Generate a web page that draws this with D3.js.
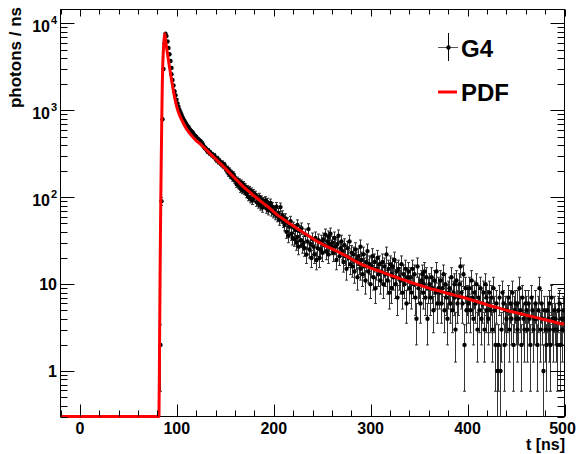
<!DOCTYPE html>
<html lang="en">
<head>
<meta charset="UTF-8">
<title>G4 vs PDF – photons / ns</title>
<script src="https://d3js.org/d3.v7.min.js"></script>
<style>
  html, body { margin: 0; padding: 0; background: #fff; }
  svg { display: block; }
  text { font-family: "Liberation Sans", Arial, Helvetica, sans-serif; font-weight: bold; fill: #000; }
</style>
</head>
<body>
<svg width="582" height="454"></svg>
<script>
  // G4 histogram: 1 ns bins, first bin centre at 82.5 ns (earlier bins are empty)
  const binStart = 82.5, binWidth = 1;
  const g4Counts = [
    2, 90, 790, 2990, 5870, 7600,
    7150, 6200, 5230, 4420, 3690, 3080, 2610, 2240, 1930, 1660, 1490, 1330,
    1200, 1100, 1010, 950, 890, 835, 790, 755, 722, 688,
    655, 642, 612, 588, 570, 556, 538, 512, 503, 488,
    470, 463, 448, 441, 424, 413, 402, 389, 374, 366,
    355, 338, 344, 322, 326, 310, 309, 296, 301, 280,
    270, 279, 256, 262, 249, 240, 247, 228, 236, 219,
    205, 214, 188, 203, 177, 190, 166, 183, 158, 171,
    160, 142, 158, 137, 151, 125, 146, 121, 140, 118,
    131, 109, 125, 101, 122, 96, 117, 92, 112, 99,
    107, 88, 99, 84, 101, 80, 94, 76, 90, 85,
    83, 92, 74, 88, 71, 80, 86, 69, 78, 66,
    71, 63, 78, 60, 66, 55, 77, 58, 62, 52,
    48, 57, 40, 51, 36, 46, 53, 38, 34, 45,
    33, 42, 30, 48, 35, 27, 41, 32, 44, 28,
    30, 26, 37, 22, 31, 43, 25, 29, 20, 33,
    27, 22, 34, 19, 26, 32, 20, 25, 31, 23,
    33, 28, 37, 24, 31, 35, 22, 29, 38, 27,
    30, 23, 34, 27, 19, 29, 36, 21, 26, 31,
    24, 18, 28, 21, 15, 26, 20, 31, 17, 23,
    16, 22, 14, 25, 19, 12, 21, 17, 27, 15,
    19, 13, 22, 16, 11, 18, 24, 14, 17, 10,
    16, 21, 12, 18, 9, 15, 20, 13, 17, 11,
    14, 18, 10, 16, 13, 22, 11, 15, 8, 17,
    13, 9, 16, 12, 19, 10, 14, 7, 15, 12,
    11, 17, 8, 13, 10, 15, 6, 12, 14, 9,
    12, 8, 15, 10, 13, 7, 4, 16, 9, 10,
    6, 11, 13, 8, 10, 14, 7, 12, 4, 9,
    10, 7, 12, 9, 5, 11, 8, 14, 6, 9,
    8, 11, 6, 9, 13, 5, 10, 7, 4, 8,
    9, 6, 12, 5, 8, 10, 7, 3, 11, 6,
    7, 10, 16, 8, 6, 13, 2, 9, 5, 7,
    6, 9, 5, 11, 7, 4, 8, 6, 10, 3,
    7, 5, 9, 4, 6, 8, 3, 10, 5, 7,
    6, 4, 8, 5, 7, 3, 9, 5, 2, 6,
    1, 2, 7, 1, 3, 8, 6, 2, 5, 4,
    5, 7, 3, 6, 4, 8, 2, 5, 6, 4,
    3, 6, 4, 9, 5, 2, 7, 4, 3, 6,
    5, 3, 6, 4, 2, 7, 5, 3, 4, 6,
    4, 2, 5, 9, 3, 6, 4, 1, 5, 3,
    2, 5, 4, 6, 3, 2, 7, 4, 3, 5,
    4, 3, 2, 5, 6, 2, 4, 3, 5, 4
  ];

  // PDF curve (t in ns, photons / ns)
  const pdfT = [-20, 80, 81.6, 82.2, 82.8, 83.4, 84, 84.5, 85, 85.5, 86, 86.5, 87, 87.6,
    88.5, 90, 92, 94, 96, 98, 100, 103, 106, 110, 115, 120, 125, 130, 135, 140, 145,
    150, 155, 160, 165, 170, 175, 180, 185, 190, 195, 200, 205, 210, 215, 220, 225,
    230, 235, 240, 245, 250, 255, 260, 265, 270, 275, 280, 285, 290, 295, 300, 310,
    320, 330, 340, 350, 360, 370, 380, 390, 400, 410, 420, 430, 440, 450, 460, 470,
    480, 490, 500];
  const pdfV = [0, 0, 0.3, 2, 15, 80, 300, 790, 1900, 3300, 4600, 5800, 6800, 7600,
    6300, 4800, 3400, 2450, 1800, 1370, 1090, 870, 740, 610, 515, 448, 402, 355, 312, 276, 244,
    215, 188, 165, 145, 128, 115, 103, 93, 84, 76, 68, 61, 56, 51, 47, 43,
    39.5, 36.5, 33.5, 31, 29, 27, 25.5, 24, 22.5, 21, 19.5, 18.2, 17, 16.1, 15.3, 14,
    12.7, 11.6, 10.6, 9.8, 9.0, 8.4, 7.8, 7.3, 6.8, 6.3, 5.8, 5.4, 5.0, 4.7, 4.4, 4.15,
    3.9, 3.65, 3.45];

  const xTicks = [0, 100, 200, 300, 400, 500];
  const yTicks = [1, 10, 100, 1000, 10000];
  const yTickBase = ["1", "10", "10", "10", "10"];
  const yTickExp = ["", "", "2", "3", "4"];
  const legendLabels = ["G4", "PDF"];

  const svg = d3.select("svg");
  const frameL = 60.5, frameR = 564.5, frameT = 9.5, frameB = 416.5;
  const yMin = 0.3, yMax = 14470;

  const x = d3.scaleLinear().domain([-20, 500]).range([frameL, frameR]);
  const y = d3.scaleLog().domain([yMin, yMax]).range([frameB, frameT]);

  // clip a little below the frame so the flat part of the PDF stays fully visible
  svg.append("clipPath").attr("id", "plot")
    .append("rect").attr("x", frameL).attr("y", frameT)
    .attr("width", frameR - frameL).attr("height", frameB - frameT + 1.5);

  const plot = svg.append("g").attr("clip-path", "url(#plot)");

  // G4 points with Poisson error bars
  const bins = g4Counts.map((c, i) => ({ t: binStart + i * binWidth, v: c, e: Math.sqrt(c) }));
  const bars = plot.append("g").attr("stroke", "#333").attr("stroke-width", 1);
  bins.forEach(d => {
    const px = Math.round(x(d.t)) + 0.5;
    const y1 = y(Math.max(d.v - d.e, yMin)), y2 = y(d.v + d.e);
    bars.append("line").attr("x1", px).attr("x2", px).attr("y1", Math.min(y1, frameB)).attr("y2", y2);
    bars.append("line").attr("x1", px - 1.5).attr("x2", px + 1.5).attr("y1", y2).attr("y2", y2);
    if (d.v - d.e > yMin)
      bars.append("line").attr("x1", px - 1.5).attr("x2", px + 1.5).attr("y1", y1).attr("y2", y1);
  });
  plot.append("g").selectAll("circle").data(bins).join("circle")
    .attr("cx", d => Math.round(x(d.t)) + 0.5)
    .attr("cy", d => y(d.v))
    .attr("r", 2.2)
    .attr("fill", "#000");

  // PDF on top
  const pdf = pdfT.map((t, i) => [t, Math.max(pdfV[i], yMin)]);
  plot.append("path")
    .datum(pdf)
    .attr("fill", "none")
    .attr("stroke", "#ff0000")
    .attr("stroke-width", 3)
    .attr("stroke-linejoin", "round")
    .attr("d", d3.line().x(d => x(d[0])).y(d => y(d[1])).curve(d3.curveMonotoneX));

  // frame
  svg.insert("rect", "g").attr("x", frameL).attr("y", frameT)
    .attr("width", frameR - frameL).attr("height", frameB - frameT)
    .attr("fill", "none").attr("stroke", "#000").attr("stroke-width", 1);

  // ticks (ROOT style, inside the frame on all four sides)
  const ticks = svg.append("g").attr("stroke", "#000").attr("stroke-width", 1);
  const xMinor = d3.range(-20, 501, 20).filter(v => v % 100 !== 0);
  xTicks.forEach(v => {
    const px = Math.round(x(v)) + 0.5;
    ticks.append("line").attr("x1", px).attr("x2", px).attr("y1", frameB).attr("y2", frameB - 12);
    ticks.append("line").attr("x1", px).attr("x2", px).attr("y1", frameT).attr("y2", frameT + 7);
  });
  xMinor.forEach(v => {
    const px = Math.round(x(v)) + 0.5;
    ticks.append("line").attr("x1", px).attr("x2", px).attr("y1", frameB).attr("y2", frameB - 6);
    ticks.append("line").attr("x1", px).attr("x2", px).attr("y1", frameT).attr("y2", frameT + 5);
  });
  const yMinor = y.ticks().filter(v => !yTicks.includes(v));
  yTicks.forEach(v => {
    const py = Math.round(y(v)) + 0.5;
    ticks.append("line").attr("x1", frameL).attr("x2", frameL + 14).attr("y1", py).attr("y2", py);
    ticks.append("line").attr("x1", frameR).attr("x2", frameR - 14).attr("y1", py).attr("y2", py);
  });
  yMinor.forEach(v => {
    const py = Math.round(y(v)) + 0.5;
    ticks.append("line").attr("x1", frameL).attr("x2", frameL + 7).attr("y1", py).attr("y2", py);
    ticks.append("line").attr("x1", frameR).attr("x2", frameR - 7).attr("y1", py).attr("y2", py);
  });

  // tick labels
  svg.append("g").selectAll("text").data(xTicks).join("text")
    .attr("x", d => x(d) - (d === 500 ? 2 : 0))
    .attr("y", 434)
    .attr("text-anchor", "middle")
    .style("font-size", "16px")
    .text(d => d);

  yTicks.forEach((v, i) => {
    const py = y(v);
    if (yTickExp[i]) {
      svg.append("text").attr("x", 50).attr("y", py + 9)
        .attr("text-anchor", "end").style("font-size", "16px").text(yTickBase[i]);
      svg.append("text").attr("x", 57).attr("y", py + 0.5)
        .attr("text-anchor", "end").style("font-size", "11px").text(yTickExp[i]);
    } else {
      svg.append("text").attr("x", 57).attr("y", py + 6)
        .attr("text-anchor", "end").style("font-size", "16px").text(yTickBase[i]);
    }
  });

  // axis titles
  svg.append("text")
    .attr("x", 565).attr("y", 450)
    .attr("text-anchor", "end")
    .style("font-size", "16px")
    .text("t [ns]");

  svg.append("text")
    .attr("transform", "translate(21,7) rotate(-90)")
    .attr("text-anchor", "end")
    .style("font-size", "17px")
    .text("photons / ns");

  // legend
  const legend = svg.append("g");
  legend.append("line").attr("x1", 438).attr("x2", 458).attr("y1", 47.5).attr("y2", 47.5)
    .attr("stroke", "#555").attr("stroke-width", 1);
  legend.append("line").attr("x1", 448.5).attr("x2", 448.5).attr("y1", 33).attr("y2", 61)
    .attr("stroke", "#000").attr("stroke-width", 1);
  legend.append("circle").attr("cx", 448.5).attr("cy", 47.5).attr("r", 2.2).attr("fill", "#000");
  legend.append("text").attr("x", 461).attr("y", 57)
    .style("font-size", "24px").text(legendLabels[0]);

  legend.append("line").attr("x1", 438).attr("x2", 457).attr("y1", 92).attr("y2", 92)
    .attr("stroke", "#ff0000").attr("stroke-width", 3);
  legend.append("text").attr("x", 461).attr("y", 100.5)
    .style("font-size", "24px").text(legendLabels[1]);
</script>
</body>
</html>
